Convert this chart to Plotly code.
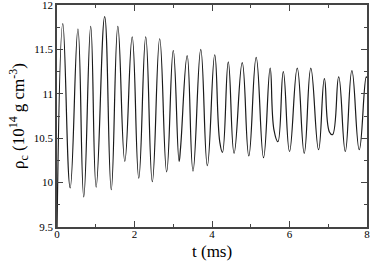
import plotly.graph_objects as go

# time (ms) and central density (10^14 g/cm^3) read at extrema/shoulders
t_ms = [0.0, 0.15, 0.34, 0.54, 0.69, 0.87, 1.01, 1.23, 1.40, 1.57, 1.75, 1.94, 2.11,
        2.29, 2.46, 2.65, 2.83, 3.00, 3.15, 3.19, 3.36, 3.51, 3.71, 3.88, 4.07, 4.20,
        4.27, 4.42, 4.57, 4.78, 4.95, 5.14, 5.33, 5.50, 5.60, 5.70, 5.84, 6.00, 6.20,
        6.38, 6.55, 6.75, 6.90, 7.03, 7.11, 7.27, 7.44, 7.61, 7.80, 7.98, 8.0]
rho_c = [9.45, 11.79, 9.94, 11.73, 9.84, 11.76, 9.95, 11.87, 9.92, 11.76, 10.24, 11.64, 10.05,
         11.64, 10.01, 11.62, 10.12, 11.49, 10.24, 10.40, 11.43, 10.13, 11.50, 10.19, 11.44, 10.46,
         10.34, 11.36, 10.33, 11.35, 10.30, 11.41, 10.28, 11.29, 10.59, 10.46, 11.25, 10.35, 11.29,
         10.33, 11.29, 10.37, 11.17, 10.57, 10.54, 11.19, 10.35, 11.26, 10.37, 11.19, 11.18]

x_ticks = [0, 2, 4, 6, 8]
y_ticks = [9.5, 10, 10.5, 11, 11.5, 12]
y_ticktext = ["9.5", "10", "10.5", "11", "11.5", "12"]

fig = go.Figure()
fig.add_trace(go.Scatter(x=t_ms, y=rho_c, mode="lines", cliponaxis=True,
                         line=dict(color="#1a1a1a", width=1.2, shape="spline", smoothing=1.3),
                         showlegend=False, hoverinfo="skip"))

font = "Liberation Serif, Times New Roman, serif"
axis_common = dict(showgrid=False, zeroline=False, showline=True, linecolor="#444",
                   linewidth=1.5, mirror="ticks", ticks="inside", ticklen=6, tickwidth=1,
                   tickcolor="#444", automargin=False, ticklabeloverflow="allow",
                   tickfont=dict(family=font, size=11, color="black"))
fig.update_xaxes(range=[0, 8], tickvals=x_ticks, ticktext=[str(v) for v in x_ticks],
                 minor=dict(dtick=1, ticks="inside", ticklen=3, tickcolor="#444"),
                 ticklabelstandoff=-4, **axis_common)
fig.update_yaxes(range=[9.5, 12], tickvals=y_ticks, ticktext=y_ticktext,
                 minor=dict(dtick=0.25, ticks="inside", ticklen=3, tickcolor="#444"),
                 **axis_common)
fig.add_annotation(text="t (ms)", xref="paper", yref="paper", x=0.5, y=0, yshift=-24,
                   showarrow=False, yanchor="middle", xanchor="center",
                   font=dict(family=font, size=17, color="black"))
fig.add_annotation(text="ρ<sub>c</sub> (10<sup>14</sup> g cm<sup>-3</sup>)",
                   xref="paper", yref="paper", x=0, y=0.5, xshift=-39, textangle=-90,
                   showarrow=False, xanchor="center", yanchor="middle",
                   font=dict(family=font, size=17, color="black"))
fig.update_layout(width=371, height=261, margin=dict(l=57, r=4, t=5, b=34),
                  plot_bgcolor="white", paper_bgcolor="white")
fig.write_html("out.html", config={"displayModeBar": False},
               post_script="document.body.style.margin='0';document.body.style.padding='0';"
                           "document.body.style.overflow='hidden';")
